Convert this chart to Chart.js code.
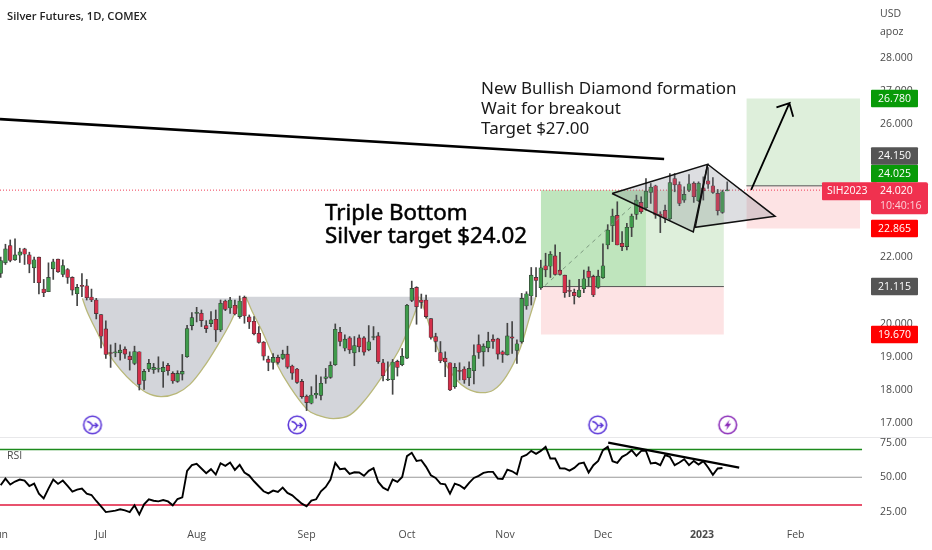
<!DOCTYPE html>
<html>
<head>
<meta charset="utf-8">
<title>Silver Futures</title>
<style>
html,body{margin:0;padding:0;background:#fff;overflow:hidden}
canvas{display:block}
</style>
<script src="https://cdn.jsdelivr.net/npm/chart.js@4/dist/chart.umd.min.js"></script>
</head>
<body>
<canvas id="chart" width="932" height="550"></canvas>
<script>
// daily candles, one entry per bar
const candleOpen = [
21.51,21.83,22.35,21.92,22.06,22.25,22.07,21.68,22.00,21.04,
20.96,21.65,21.94,21.48,21.63,21.39,20.90,21.15,21.14,20.80,
20.71,20.27,19.84,19.13,19.12,19.12,19.23,19.02,18.80,19.15,
18.29,18.63,18.61,18.63,18.55,18.74,18.50,18.26,18.48,19.00,
19.94,20.31,20.31,19.94,20.00,20.13,19.81,20.68,20.47,20.55,
20.21,20.79,20.20,20.07,19.71,19.44,18.93,18.83,18.98,18.95,
19.08,18.72,18.63,18.26,17.81,17.60,17.85,17.84,18.35,18.38,
18.76,19.74,19.26,19.57,19.12,19.57,19.57,19.21,19.58,19.63,
18.82,18.30,18.31,18.86,18.76,18.96,20.70,21.09,20.71,20.71,
20.15,19.61,19.13,18.96,18.82,18.10,18.59,18.63,18.37,18.58,
19.37,19.15,19.27,19.53,19.54,19.15,19.06,19.60,19.19,19.45,
20.53,20.83,21.39,21.08,21.74,21.73,22.04,21.61,21.46,21.00,
20.94,20.81,21.05,21.58,21.42,21.09,21.38,22.37,22.95,23.26,
22.42,22.32,22.90,23.29,23.65,23.49,23.95,24.15,23.30,23.41,
23.16,24.37,24.19,23.72,24.02,24.23,23.70,24.09,24.30,24.15,
23.92,23.35,24.00]
const candleClose = [
21.90,22.25,21.90,22.07,22.16,22.09,21.79,21.92,21.23,20.93,
21.39,21.86,21.56,21.75,21.39,21.01,21.09,21.12,20.78,20.71,
20.30,19.62,19.07,19.10,19.15,19.20,19.08,18.91,19.16,18.17,
18.56,18.80,18.68,18.65,18.68,18.58,18.27,18.50,18.56,19.85,
20.18,20.34,20.09,19.85,20.11,19.81,20.61,20.43,20.71,20.29,
20.68,20.23,20.05,19.69,19.43,19.02,18.83,18.98,18.83,19.08,
18.69,18.51,18.23,17.80,17.62,17.85,17.90,18.20,18.40,18.74,
19.83,19.46,19.53,19.21,19.34,19.30,19.14,19.45,19.61,18.85,
18.43,18.32,18.84,18.68,19.02,20.55,21.06,20.51,20.64,20.21,
19.58,19.46,18.88,18.85,18.00,18.68,18.56,18.30,18.65,19.04,
19.13,19.32,19.47,19.46,19.08,19.07,19.63,19.56,19.39,20.76,
20.90,21.46,21.30,21.68,21.62,22.09,21.48,21.48,20.93,20.97,
20.84,21.01,21.35,21.39,20.86,21.43,21.74,22.82,23.24,22.37,
22.32,22.90,23.24,23.72,23.37,23.99,24.11,23.27,23.24,23.18,
24.25,24.18,23.62,23.89,24.21,23.82,24.23,24.00,24.20,23.95,
23.40,23.97,24.02]
const candleHigh = [
22.00,22.39,22.52,22.55,22.27,22.27,22.15,22.00,22.00,21.33,
21.83,21.94,21.94,21.92,21.66,21.41,21.18,21.51,21.33,21.04,
20.76,20.27,20.08,19.36,19.41,19.36,19.30,19.15,19.32,19.15,
18.62,18.92,18.80,19.00,18.85,18.80,18.55,18.58,19.07,19.95,
20.33,20.49,20.41,20.09,20.36,20.41,20.71,20.71,20.79,20.71,
20.83,20.83,20.26,20.21,19.91,19.46,19.02,19.10,19.05,19.20,
19.32,18.75,18.65,18.32,17.85,18.10,18.45,18.40,18.65,18.85,
19.99,19.89,19.66,19.61,19.61,19.66,19.61,19.94,19.91,19.73,
18.92,18.85,18.92,18.90,19.25,20.58,21.28,21.11,20.89,20.86,
20.15,19.71,19.46,19.15,18.82,18.80,18.82,18.70,18.85,19.36,
19.66,19.39,19.74,19.66,19.56,19.18,20.01,20.06,19.51,20.91,
20.96,21.69,21.69,21.91,22.12,22.17,22.37,22.15,21.46,21.31,
21.04,21.33,21.61,21.71,21.46,21.61,22.40,22.98,23.45,23.67,
22.77,23.02,23.30,23.87,23.82,24.37,24.22,24.17,23.37,23.57,
24.52,24.52,24.27,24.12,24.49,24.27,24.27,24.42,24.70,24.40,
24.04,24.02,24.27]
const candleLow = [
21.39,21.78,21.86,21.90,21.84,21.78,21.53,21.23,20.89,20.81,
20.96,21.33,21.54,21.41,21.21,20.86,20.54,20.81,20.71,20.66,
20.14,19.27,18.95,18.68,19.00,18.90,18.95,18.60,18.76,18.00,
18.02,18.55,18.50,18.54,18.08,18.45,18.20,18.23,18.30,18.98,
19.81,20.05,19.91,19.73,19.91,19.46,19.76,20.39,20.31,20.26,
20.16,20.01,19.85,19.66,19.41,18.90,18.58,18.63,18.78,18.92,
18.65,18.32,18.20,17.75,17.38,17.58,17.75,17.70,18.20,18.35,
18.74,19.33,19.18,19.10,18.73,19.15,19.05,19.18,19.51,18.80,
18.27,18.28,17.87,18.42,18.73,18.94,20.66,19.98,20.46,20.16,
19.53,19.15,18.82,18.40,17.98,18.05,18.30,18.20,18.13,18.18,
18.95,18.72,19.15,19.25,18.93,18.83,19.05,19.10,18.80,19.41,
20.43,20.56,20.81,21.03,21.41,21.39,21.46,21.46,20.79,20.81,
20.59,20.79,20.93,21.13,20.81,21.06,21.36,22.25,22.47,22.37,
22.20,22.22,22.62,23.14,23.32,23.42,23.62,23.17,22.74,23.04,
23.12,23.97,23.55,23.65,23.97,23.65,23.67,23.72,24.07,23.92,
23.27,23.32,24.00]
const rsiValues = [
44.2,49.0,44.7,46.9,48.3,47.6,43.7,45.4,38.2,34.8,
41.8,48.3,45.2,47.6,43.7,39.6,41.1,41.8,38.2,37.2,
32.9,29.0,24.9,25.4,25.9,26.9,26.1,24.9,29.8,23.2,
30.5,34.1,33.1,32.6,33.6,32.6,29.8,34.3,35.5,54.6,
58.7,59.6,56.3,52.9,55.8,51.9,60.1,58.2,60.6,55.3,
58.9,53.4,51.2,47.1,43.5,39.9,38.4,40.4,39.4,42.5,
38.7,37.0,33.9,31.0,29.0,33.1,34.1,39.9,43.0,48.3,
60.4,55.8,56.3,52.4,53.6,53.4,51.0,54.6,56.5,46.6,
42.5,40.6,48.3,46.6,50.2,65.2,67.6,61.8,62.3,57.5,
51.4,49.5,45.4,44.9,38.2,45.4,44.2,41.8,45.9,49.5,
51.0,53.1,53.9,53.9,49.0,48.8,55.5,54.3,52.2,64.7,
66.1,69.0,66.9,69.0,71.9,63.5,63.5,56.5,56.3,54.8,
56.7,59.9,60.6,53.4,58.7,61.8,69.5,71.9,61.6,60.4,
64.7,66.6,69.5,65.4,69.0,69.0,59.9,60.4,58.7,65.9,
64.7,58.7,60.6,63.0,58.7,61.8,59.2,61.6,57.0,51.7,
56.3,56.7]

// rounding bottoms, bar position and price along the curve
const cup1X = [17.1,18.1,20.1,22.2,25,27.7,30.5,33.5,36.8,39.6,42.4,45.2,48,50.3]
const cup1Y = [20.76,20.36,19.76,19.18,18.62,18.22,17.92,17.80,17.90,18.17,18.67,19.30,20.01,20.76]
const cup2X = [51.3,52.8,54.9,57.7,60.5,64,66.1,69.6,73.1,76.5,80,83.5,87,87.5]
const cup2Y = [20.81,20.31,19.71,18.80,18.10,17.43,17.25,17.14,17.25,17.75,18.45,19.25,20.46,20.81]
const cup3X = [87.8,89.1,90.8,92.6,95.4,97.5,100.3,103.1,105.8,108.6,110.7,112]
const cup3Y = [20.79,20.21,19.46,18.90,18.30,18.05,17.92,18.0,18.42,19.22,20.21,20.82]

// drawn lines on the price pane
const trendX = [-0.14,138.8]
const trendY = [26.16,24.96]
const dashedX = [113.9,133]
const dashedY = [21.15,23.66]
const triangle1X = [127.9,147.9,144.9,127.9]
const triangle1Y = [23.92,24.8,22.76,23.92]
const triangle2X = [147.9,162,145.3,147.9]
const triangle2Y = [24.8,23.23,22.9,24.8]
const arrowX = [157,165,162.3,165,165.8]
const arrowY = [24.03,26.64,26.51,26.64,26.23]

// position tools: from, to, entry, target, stop
const trade1 = [113,151.3,21.115,24.02,19.67]
const tradeOverlapTo = 135
const trade2 = [156,179.8,24.15,26.78,22.865]

const lastPrice = 24.02
const rsiLevels = [70,50,30]
const rsiTrendX = [127.1,154.5]
const rsiTrendY = [74.9,56.9]

const eventX = [19.2,62,124.9,152.1]
const eventY = 16.95

const priceTicks = [28,27,26,22,20,19,18,17]
const rsiTicks = [75,50,25]
const monthPos = [-0.1,21,41,64,85,105.5,126,146.7,166.3]
const monthLabels = ["Jun","Jul","Aug","Sep","Oct","Nov","Dec","2023","Feb"]

const tagPrices = [26.78,24.15,24.025,22.865,21.115,19.67]
const tagColors = ["#089a08","#555555","#089a08","#ff0000","#555555","#ff0000"]

const FONT = '"Open Sans", sans-serif'
const GREEN = "#3f9b4b"
const RED = "#d42f4a"
const WICK = "#444"

function pts(xs, ys){ return xs.map((x,i) => ({x:x, y:ys[i]})) }

function lineSet(xs, ys, color, width, order, extra){
    return Object.assign({
        type:"line", data:pts(xs,ys), borderColor:color, borderWidth:width,
        pointRadius:0, fill:false, order:order, yAxisID:"y", tension:0
    }, extra||{})
}

// filled box between two prices, still a two point line so it goes through the scales
function boxSet(x0, x1, yTop, yBottom, color, order){
    return lineSet([x0,x1],[yTop,yTop],"rgba(0,0,0,0)",0,order,{fill:{value:yBottom},backgroundColor:color})
}

function cupSet(xs, ys){
    return lineSet(xs,ys,"#b9b879",1.3,20,{fill:{value:ys[0]},backgroundColor:"#d3d5da",tension:0.35})
}

function makeIcon(color, glyph){
    const c = document.createElement("canvas")
    c.width = 22; c.height = 22
    const g = c.getContext("2d")
    g.strokeStyle = color; g.fillStyle = color; g.lineWidth = 1.6
    g.beginPath(); g.arc(11,11,8.8,0,Math.PI*2)
    g.fillStyle = "#fff"; g.fill(); g.stroke()
    g.fillStyle = color
    glyph(g)
    return c
}
const splitIcon = makeIcon("#5a35d8", g => {
    g.lineWidth = 1.4
    g.beginPath()
    g.moveTo(5.5,7.5); g.quadraticCurveTo(9,8,11,11.5); g.lineTo(16,11.5)
    g.moveTo(7.5,16.5); g.quadraticCurveTo(10.5,15,11,11.5)
    g.moveTo(13.5,9); g.lineTo(16.2,11.5); g.lineTo(13.5,14)
    g.stroke()
})
const boltIcon = makeIcon("#8a2bb8", g => {
    g.beginPath()
    g.moveTo(12.8,5.8); g.lineTo(7.6,12.2); g.lineTo(10.6,12.2)
    g.lineTo(9.2,16.4); g.lineTo(14.4,9.8); g.lineTo(11.4,9.8)
    g.closePath(); g.fill()
})

const candleX = candleOpen.map((v,i) => i)
const bodyColors = candleOpen.map((v,i) => candleClose[i] >= v ? GREEN : RED)

const datasets = [
    // bodies above wicks, everything else below
    {type:"bar", data:candleX.map(i => ({x:i, y:[Math.min(candleOpen[i],candleClose[i]),Math.max(candleOpen[i],candleClose[i])]})),
     backgroundColor:bodyColors, borderColor:"#333", borderWidth:0.6, borderSkipped:false,
     barThickness:3.8, minBarLength:1, grouped:false, order:5, yAxisID:"y"},
    {type:"bar", data:candleX.map(i => ({x:i, y:[candleLow[i],candleHigh[i]]})),
     backgroundColor:WICK, barThickness:1, grouped:false, order:6, yAxisID:"y"},

    lineSet(trendX,trendY,"#000",2.6,2),
    lineSet(dashedX,dashedY,"#7d9a80",1,4,{borderDash:[4,4]}),
    lineSet(triangle1X,triangle1Y,"#111",1.5,3,{fill:"shape",backgroundColor:"rgba(120,123,134,0.25)"}),
    lineSet(triangle2X,triangle2Y,"#111",1.5,3,{fill:"shape",backgroundColor:"rgba(120,123,134,0.25)"}),
    lineSet(arrowX,arrowY,"#000",1.8,2),

    cupSet(cup1X,cup1Y),
    cupSet(cup2X,cup2Y),
    cupSet(cup3X,cup3Y),

    lineSet([-0.14,181],[lastPrice,lastPrice],"#ef3b55",1,7,{borderDash:[1,2]}),

    // position tools
    boxSet(trade1[0],trade1[1],trade1[3],trade1[2],"#deefdb",30),
    boxSet(trade1[0],tradeOverlapTo,trade1[3],trade1[2],"#bfe5bd",29),
    boxSet(trade1[0],trade1[1],trade1[2],trade1[4],"#fde3e4",30),
    lineSet([trade1[0],trade1[1]],[trade1[2],trade1[2]],"#555",1,8),
    boxSet(trade2[0],trade2[1],trade2[3],trade2[2],"#deefdb",30),
    boxSet(trade2[0],trade2[1],trade2[2],trade2[4],"#fde3e4",30),
    lineSet([trade2[0],trade2[1]],[trade2[2],trade2[2]],"#555",1,8),

    {type:"scatter", data:eventX.map(x => ({x:x, y:eventY})), yAxisID:"y", order:1,
     pointStyle:[splitIcon,splitIcon,splitIcon,boltIcon], pointRadius:9, showLine:false},

    // RSI pane
    lineSet(candleX.slice(0,rsiValues.length),rsiValues,"#000",1.9,3,{yAxisID:"rsi"}),
    lineSet(rsiTrendX,rsiTrendY,"#000",2.2,2,{yAxisID:"rsi"}),
    lineSet([-0.14,180.2],[rsiLevels[0],rsiLevels[0]],"#1c8a1c",1.5,8,{yAxisID:"rsi"}),
    lineSet([-0.14,180.2],[rsiLevels[1],rsiLevels[1]],"#999",1.2,8,{yAxisID:"rsi"}),
    lineSet([-0.14,180.2],[rsiLevels[2],rsiLevels[2]],"#e0193c",1.5,8,{yAxisID:"rsi"})
]

function roundRect(ctx,x,y,w,h,r){
    ctx.beginPath(); ctx.roundRect(x,y,w,h,r); ctx.fill()
}

function noPadding(s){
    s.paddingLeft = 0; s.paddingRight = 0; s.paddingTop = 0; s.paddingBottom = 0
}

// texts, price tags and the pane separator
const overlay = {
    id:"overlay",
    afterDraw(chart){
        const ctx = chart.ctx
        const xs = chart.scales.x, ys = chart.scales.y, rs = chart.scales.rsi
        ctx.save()

        ctx.strokeStyle = "#e8e8ea"; ctx.lineWidth = 1
        ctx.beginPath(); ctx.moveTo(0,rs.top+0.5); ctx.lineTo(chart.width,rs.top+0.5); ctx.stroke()

        ctx.textBaseline = "middle"; ctx.textAlign = "left"
        ctx.fillStyle = "#222"
        ctx.font = '600 11.2px ' + FONT
        ctx.fillText("Silver Futures, 1D, COMEX",7,17)

        ctx.fillStyle = "#4a4a4a"
        ctx.font = '10.5px ' + FONT
        ctx.fillText("USD",xs.right+14,14)
        ctx.fillText("apoz",xs.right+14,32)
        ctx.fillText("RSI",7,rs.getPixelForValue(65))

        ctx.fillStyle = "#1a1a1a"
        ctx.font = '17px "Noto Sans", sans-serif'
        const noteX = xs.getPixelForValue(100.5)
        ctx.fillText("New Bullish Diamond formation",noteX,ys.getPixelForValue(27.07))
        ctx.fillText("Wait for breakout",noteX,ys.getPixelForValue(26.46))
        ctx.fillText("Target $27.00",noteX,ys.getPixelForValue(25.86))

        ctx.fillStyle = "#000"; ctx.strokeStyle = "#000"; ctx.lineWidth = 0.5
        ctx.font = '22.3px "Noto Sans", sans-serif'
        const headX = xs.getPixelForValue(67.85)
        ctx.fillText("Triple Bottom",headX,ys.getPixelForValue(23.3))
        ctx.strokeText("Triple Bottom",headX,ys.getPixelForValue(23.3))
        ctx.fillText("Silver target $24.02",headX,ys.getPixelForValue(22.61))
        ctx.strokeText("Silver target $24.02",headX,ys.getPixelForValue(22.61))

        // tags stack upward so they never overlap, same as the platform does
        const tagLeft = xs.right+5, tagW = 47, tagH = 17.5
        const lastY = ys.getPixelForValue(lastPrice)
        const order = tagPrices.map((p,i) => i).sort((a,b) => tagPrices[a]-tagPrices[b])
        let limit = chart.height
        ctx.font = '10.5px ' + FONT
        ctx.textAlign = "center"
        order.forEach(i => {
            const y = ys.getPixelForValue(tagPrices[i])
            let top = y-tagH/2
            if (tagPrices[i] > lastPrice) limit = Math.min(limit,lastY-8)
            if (top+tagH > limit) top = limit-tagH
            limit = top
            ctx.fillStyle = tagColors[i]
            roundRect(ctx,tagLeft,top,tagW,tagH,1)
            ctx.fillStyle = "#fff"
            ctx.fillText(tagPrices[i].toFixed(3),tagLeft+tagW/2,top+tagH/2+0.5)
        })

        ctx.fillStyle = "#f0314f"
        roundRect(ctx,tagLeft-49,lastY-8,55,18,1)
        roundRect(ctx,tagLeft,lastY-8,57,32,2)
        ctx.fillStyle = "#fff"
        ctx.textAlign = "left"
        ctx.fillText("SIH2023",tagLeft-44,lastY+1)
        ctx.fillText(lastPrice.toFixed(3),tagLeft+9,lastY+1)
        ctx.fillStyle = "#fbd0d7"
        ctx.fillText("10:40:16",tagLeft+9,lastY+16)
        ctx.restore()
    }
}

new Chart(document.getElementById("chart"),{
    type:"line",
    data:{datasets:datasets},
    plugins:[overlay],
    options:{
        responsive:false,
        animation:false,
        events:[],
        layout:{padding:0,autoPadding:false},
        plugins:{legend:{display:false},tooltip:{enabled:false},title:{display:false}},
        scales:{
            x:{
                type:"linear", min:-0.14, max:181.03, offset:false,
                grid:{display:false,drawTicks:false}, border:{display:false},
                afterBuildTicks:s => { s.ticks = monthPos.map(v => ({value:v})) },
                afterFit:s => { s.height = 28; noPadding(s) },
                ticks:{
                    autoSkip:false, maxRotation:0, minRotation:0, padding:7, color:"#4a4a4a",
                    font:c => ({family:"Open Sans", size:10.5, weight:c.tick && c.tick.value==monthPos[7] ? "700" : "400"}),
                    callback:v => monthLabels[monthPos.indexOf(v)]
                }
            },
            y:{
                type:"linear", position:"right", min:16.584, max:29.747,
                stack:"panes", stackWeight:437,
                grid:{display:false,drawTicks:false}, border:{display:false},
                afterBuildTicks:s => { s.ticks = priceTicks.map(v => ({value:v})) },
                afterFit:s => { s.width = 66; noPadding(s) },
                ticks:{padding:14,color:"#4a4a4a",font:{family:"Open Sans",size:10.5},callback:v => v.toFixed(3)}
            },
            rsi:{
                type:"linear", axis:"y", position:"right", min:17.75, max:79,
                stack:"panes", stackWeight:85,
                grid:{display:false,drawTicks:false}, border:{display:false},
                afterBuildTicks:s => { s.ticks = rsiTicks.map(v => ({value:v})) },
                afterFit:s => { s.width = 66; noPadding(s) },
                ticks:{padding:14,color:"#4a4a4a",font:{family:"Open Sans",size:10.5},callback:v => v.toFixed(2)}
            }
        }
    }
})
</script>
</body>
</html>
